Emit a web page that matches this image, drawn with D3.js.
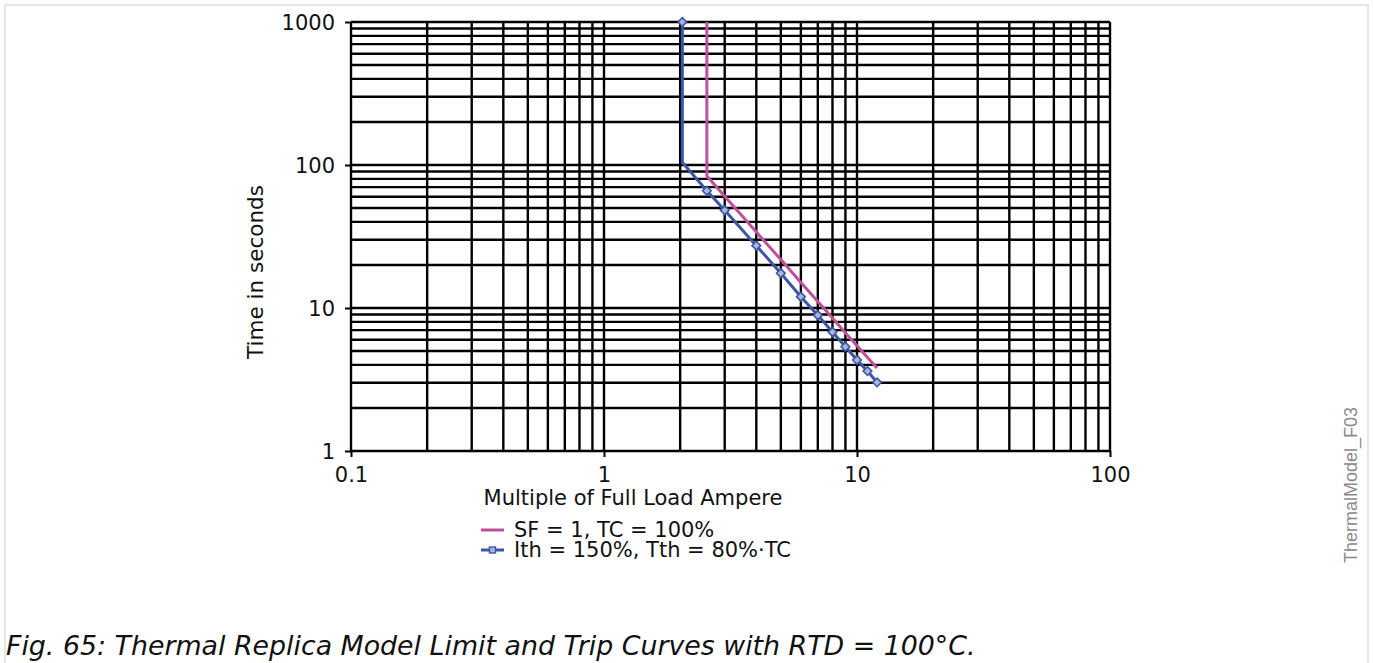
<!DOCTYPE html>
<html>
<head>
<meta charset="utf-8">
<script src="https://cdn.jsdelivr.net/npm/d3@7"></script>
<style>
  html, body { margin: 0; padding: 0; background: #fff; }
  svg { display: block; }
  text { font-family: "DejaVu Sans", sans-serif; fill: #111; }
</style>
</head>
<body>
<svg id="chart" width="1373" height="663"></svg>
<script>
// ---- data ----
const xTickLabels = ["0.1", "1", "10", "100"];
const yTickLabels = ["1", "10", "100", "1000"];
const xTickValues = [0.1, 1, 10, 100];
const yTickValues = [1, 10, 100, 1000];

const seriesNames = ["SF = 1, TC = 100%", "Ith = 150%, Tth = 80%·TC"];

// SF = 1, TC = 100%
const limitCurrent = [2.55, 2.55, 3, 4, 5, 6, 7, 8, 9, 10, 11, 12];
const limitTime    = [1000, 83.8, 60.5, 34.0, 21.8, 15.1, 11.1, 8.5, 6.7, 5.45, 4.5, 3.8];

// Ith = 150%, Tth = 80%·TC
const tripCurrent = [2.04, 2.04, 2.55, 3, 4, 5, 6, 7, 8, 9, 10, 11, 12];
const tripTime    = [1000, 104, 66, 48.3, 27.3, 17.5, 12.0, 8.9, 6.8, 5.36, 4.33, 3.62, 3.02];

const captionText = "Fig. 65: Thermal Replica Model Limit and Trip Curves with RTD = 100°C.";
const sideLabel = "ThermalModel_F03";
const xTitle = "Multiple of Full Load Ampere";
const yTitle = "Time in seconds";

// ---- layout ----
const L = 351, R = 1110, T = 22, B = 451;
const pink = "#c0509b", blue = "#3b56a6";

const svg = d3.select("#chart");

// outer light frame
svg.append("path")
  .attr("d", "M5,663 V5 H1368 V663")
  .attr("fill", "none").attr("stroke", "#e6e6e6").attr("stroke-width", 2);

const x = d3.scaleLog().domain([0.1, 100]).range([L, R]);
const y = d3.scaleLog().domain([1, 1000]).range([B, T]);

// grid values
const xGrid = [];
for (let d = 0.1; d < 100 - 1e-9; d *= 10) for (let k = 1; k <= 10; k++) xGrid.push(+(d * k).toPrecision(3));
const yGrid = [];
for (let d = 1; d < 1000 - 1e-9; d *= 10) for (let k = 1; k <= 10; k++) yGrid.push(+(d * k).toPrecision(3));

const grid = svg.append("g").attr("stroke", "#000").attr("stroke-width", 2.4);
grid.selectAll("line.v").data(Array.from(new Set(xGrid))).join("line")
  .attr("x1", d => x(d)).attr("x2", d => x(d)).attr("y1", T).attr("y2", B);
grid.selectAll("line.h").data(Array.from(new Set(yGrid))).join("line")
  .attr("y1", d => y(d)).attr("y2", d => y(d)).attr("x1", L).attr("x2", R);

// axes (major ticks only)
const xAxis = d3.axisBottom(x).tickValues(xTickValues).tickSize(6).tickPadding(10)
  .tickFormat((d, i) => xTickLabels[i]);
const yAxis = d3.axisLeft(y).tickValues(yTickValues).tickSize(6).tickPadding(10)
  .tickFormat((d, i) => yTickLabels[i]);

const gx = svg.append("g").attr("transform", `translate(0,${B})`).call(xAxis);
const gy = svg.append("g").attr("transform", `translate(${L},0)`).call(yAxis);
[gx, gy].forEach(g => {
  g.select(".domain").remove();
  g.selectAll(".tick line").attr("stroke", "#000").attr("stroke-width", 2);
  g.selectAll(".tick text").attr("font-size", 21).attr("fill", "#111")
    .attr("font-family", "DejaVu Sans, sans-serif");
});
gy.selectAll(".tick text").attr("dy", "0.36em");
gx.selectAll(".tick text").attr("dy", "0.7em");

// curves
const line = d3.line().x(d => x(d[0])).y(d => y(d[1]));
const limitData = limitCurrent.map((c, i) => [c, limitTime[i]]);
const tripData = tripCurrent.map((c, i) => [c, tripTime[i]]);

svg.append("path").datum(limitData).attr("d", line)
  .attr("fill", "none").attr("stroke", pink).attr("stroke-width", 3);
svg.append("path").datum(tripData).attr("d", line)
  .attr("fill", "none").attr("stroke", blue).attr("stroke-width", 3);

const diamond = d3.symbol().type(d3.symbolDiamond2).size(48);
svg.append("g").selectAll("path").data(tripData.filter((d, i) => i !== 1)).join("path")
  .attr("d", diamond)
  .attr("transform", d => `translate(${x(d[0])},${y(d[1])})`)
  .attr("fill", "#aab6dc").attr("stroke", blue).attr("stroke-width", 1.6);

// axis titles
svg.append("text").attr("x", 633).attr("y", 505).attr("text-anchor", "middle")
  .attr("font-size", 21).text(xTitle);
svg.append("text").attr("transform", "translate(263,272) rotate(-90)")
  .attr("text-anchor", "middle").attr("font-size", 21.5).text(yTitle);

// legend
const lg = svg.append("g");
const legendColors = [pink, blue];
seriesNames.forEach((name, i) => {
  const ly = 530 + i * 20;
  lg.append("line").attr("x1", 481).attr("x2", 504).attr("y1", ly).attr("y2", ly)
    .attr("stroke", legendColors[i]).attr("stroke-width", 3);
  if (i === 1) {
    lg.append("rect").attr("x", 489.5).attr("y", ly - 3).attr("width", 6).attr("height", 6)
      .attr("fill", "#aab6dc").attr("stroke", blue).attr("stroke-width", 1.4);
  }
  lg.append("text").attr("x", 514).attr("y", ly + 7).attr("font-size", 21).text(name);
});

// side label
svg.append("text").attr("transform", "translate(1357,485) rotate(-90)")
  .attr("text-anchor", "middle").attr("font-size", 18)
  .style("font-family", "'Liberation Sans', Arial, sans-serif").style("fill", "#8a8a8a")
  .text(sideLabel);

// caption
svg.append("text").attr("x", 6).attr("y", 655).attr("font-size", 26.8)
  .attr("font-style", "italic").text(captionText);
</script>
</body>
</html>
